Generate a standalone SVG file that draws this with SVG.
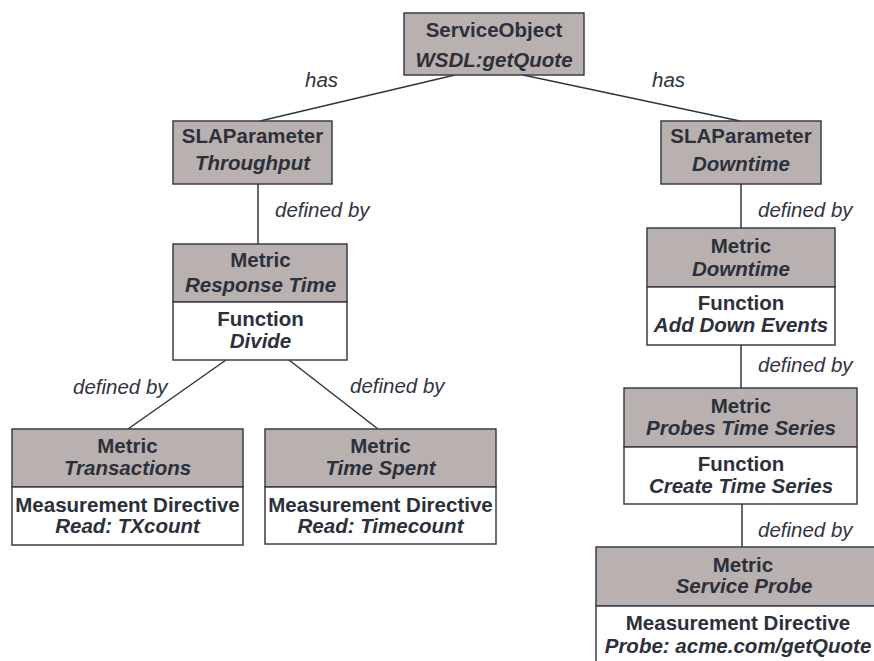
<svg xmlns="http://www.w3.org/2000/svg" width="874" height="661" viewBox="0 0 874 661">
<style>
.hd{fill:#b9b1af;stroke:#3a3e49;stroke-width:1.5}
.bd{fill:#ffffff;stroke:#3a3e49;stroke-width:1.5}
.t{font-family:"Liberation Sans",Arial,sans-serif;font-size:20.5px;fill:#2c303b;text-anchor:middle;font-weight:bold}
.i{font-style:italic}
.lbl{font-family:"Liberation Sans",Arial,sans-serif;font-size:20.5px;fill:#30343f;font-style:italic}
.c{stroke:#30343f;stroke-width:1.5;fill:none}
</style>
<rect width="874" height="661" fill="#ffffff"/>
<g id="connectors">
<line class="c" x1="455" y1="75" x2="260" y2="121"/>
<line class="c" x1="523" y1="75" x2="740" y2="121"/>
<line class="c" x1="258" y1="184" x2="258" y2="244"/>
<line class="c" x1="226" y1="360" x2="128" y2="429"/>
<line class="c" x1="289" y1="360" x2="378" y2="429"/>
<line class="c" x1="741" y1="184" x2="741" y2="228"/>
<line class="c" x1="741" y1="345" x2="741" y2="388"/>
<line class="c" x1="742" y1="504" x2="742" y2="547"/>
<text class="lbl" x="305" y="87">has</text>
<text class="lbl" x="652" y="87">has</text>
<text class="lbl" x="275" y="217">defined by</text>
<text class="lbl" x="73" y="394">defined by</text>
<text class="lbl" x="350" y="393">defined by</text>
<text class="lbl" x="758" y="217">defined by</text>
<text class="lbl" x="758" y="372">defined by</text>
<text class="lbl" x="758" y="537">defined by</text>
</g>
<g id="serviceObject">
<rect class="hd" x="404" y="13" width="180" height="62"/>
<text class="t" x="494" y="37">ServiceObject</text>
<text class="t i" x="494" y="67">WSDL:getQuote</text>
</g>
<g id="slaThroughput">
<rect class="hd" x="173" y="121" width="159" height="63"/>
<text class="t" x="252.5" y="143">SLAParameter</text>
<text class="t i" x="252.5" y="170">Throughput</text>
</g>
<g id="slaDowntime">
<rect class="hd" x="661" y="121" width="160" height="63"/>
<text class="t" x="741" y="143">SLAParameter</text>
<text class="t i" x="741" y="171">Downtime</text>
</g>
<g id="metricResponseTime">
<rect class="hd" x="173" y="244" width="174" height="58"/>
<rect class="bd" x="173" y="302" width="174" height="58"/>
<text class="t" x="260.5" y="267">Metric</text>
<text class="t i" x="260.5" y="292">Response Time</text>
<text class="t" x="260.5" y="326">Function</text>
<text class="t i" x="260.5" y="348">Divide</text>
</g>
<g id="metricTransactions">
<rect class="hd" x="12" y="429" width="231" height="58"/>
<rect class="bd" x="12" y="487" width="231" height="58"/>
<text class="t" x="127.5" y="453">Metric</text>
<text class="t i" x="127.5" y="475">Transactions</text>
<text class="t" x="127.5" y="512">Measurement Directive</text>
<text class="t i" x="127.5" y="533">Read: TXcount</text>
</g>
<g id="metricTimeSpent">
<rect class="hd" x="265" y="429" width="231" height="58"/>
<rect class="bd" x="265" y="487" width="231" height="57"/>
<text class="t" x="380.5" y="453">Metric</text>
<text class="t i" x="380.5" y="475">Time Spent</text>
<text class="t" x="380.5" y="512">Measurement Directive</text>
<text class="t i" x="380.5" y="533">Read: Timecount</text>
</g>
<g id="metricDowntime">
<rect class="hd" x="647" y="228" width="188" height="59"/>
<rect class="bd" x="647" y="287" width="188" height="58"/>
<text class="t" x="741" y="253">Metric</text>
<text class="t i" x="741" y="276">Downtime</text>
<text class="t" x="741" y="310">Function</text>
<text class="t i" x="741" y="332">Add Down Events</text>
</g>
<g id="metricProbesTimeSeries">
<rect class="hd" x="624" y="388" width="233" height="59"/>
<rect class="bd" x="624" y="447" width="233" height="57"/>
<text class="t" x="741" y="413">Metric</text>
<text class="t i" x="741" y="435">Probes Time Series</text>
<text class="t" x="741" y="471">Function</text>
<text class="t i" x="741" y="493">Create Time Series</text>
</g>
<g id="metricServiceProbe">
<rect class="hd" x="596" y="547" width="294" height="59"/>
<rect class="bd" x="596" y="606" width="294" height="70"/>
<text class="t" x="743" y="572">Metric</text>
<text class="t i" x="744" y="593">Service Probe</text>
<text class="t" x="738" y="630">Measurement Directive</text>
<text class="t i" x="738" y="653">Probe: acme.com/getQuote</text>
</g>
</svg>
